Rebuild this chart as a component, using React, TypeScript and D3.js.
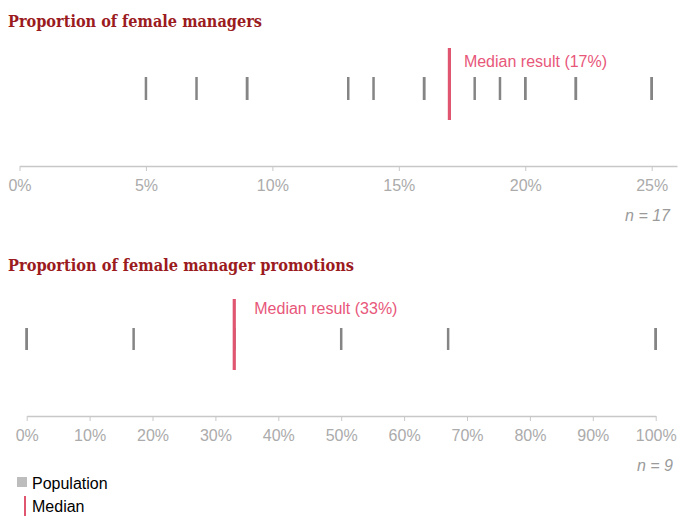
import React, { useEffect, useRef } from "react";
import * as d3 from "d3";

// Data
const managersValues = [5, 7, 9, 9, 13, 14, 16, 16, 17, 18, 19, 20, 20, 22, 22, 25, 25];
const managersTicks = [0, 5, 10, 15, 20, 25];
const promotionsValues = [0, 0, 17, 33, 33, 50, 67, 100, 100];
const promotionsTicks = [0, 10, 20, 30, 40, 50, 60, 70, 80, 90, 100];
const titles = ["Proportion of female managers", "Proportion of female manager promotions"];
const legendLabels = ["Population", "Median"];

const W = 690;
const H = 524;
const RED_TITLE = "#9b1b1e";
const MEDIAN = "#e05670";
const MEDIAN_TEXT = "#e8577a";
const MARK = "#858585";
const SANS = "'Liberation Sans', Arial, sans-serif";
const SERIF = "'DejaVu Serif', Georgia, serif";

type Cfg = {
  title: string;
  titleLen: number;
  titleY: number;
  values: number[];
  ticks: number[];
  domain: [number, number];
  range: [number, number];
  markTop: number;
  markBottom: number;
  medTop: number;
  medBottom: number;
  labelY: number;
  labelDx: number;
  axisY: number;
  nY: number;
  nRight: number;
};

const charts: Cfg[] = [
  {
    title: titles[0], titleLen: 254, titleY: 27,
    values: managersValues, ticks: managersTicks,
    domain: [0, 26], range: [19.5, 677],
    markTop: 77, markBottom: 100, medTop: 48, medBottom: 120,
    labelY: 67, labelDx: 14.5, axisY: 166, nY: 221, nRight: 670,
  },
  {
    title: titles[1], titleLen: 346, titleY: 271,
    values: promotionsValues, ticks: promotionsTicks,
    domain: [0, 100], range: [26.7, 655.7],
    markTop: 328, markBottom: 350, medTop: 299, medBottom: 370,
    labelY: 314, labelDx: 20, axisY: 416, nY: 471, nRight: 673,
  },
];

function Axis({ cfg }: { cfg: Cfg }) {
  const ref = useRef<SVGGElement>(null);
  useEffect(() => {
    if (!ref.current) return;
    const x = d3.scaleLinear().domain(cfg.domain).range(cfg.range);
    const axis = d3
      .axisBottom(x)
      .tickValues(cfg.ticks)
      .tickFormat((d) => `${d}%`)
      .tickSize(5)
      .tickSizeOuter(0)
      .tickPadding(9);
    const g = d3.select(ref.current);
    g.call(axis as any);
    g.select(".domain").attr("stroke", "#c8c8c8").attr("stroke-width", 1.5);
    g.selectAll(".tick line").attr("stroke", "#c8c8c8").attr("stroke-width", 1);
    g.selectAll(".tick text")
      .attr("fill", "#ababab")
      .attr("font-size", 16)
      .attr("font-family", SANS);
    g.attr("font-family", SANS);
  }, [cfg]);
  return <g ref={ref} transform={`translate(0,${cfg.axisY})`} />;
}

function Strip({ cfg }: { cfg: Cfg }) {
  const x = d3.scaleLinear().domain(cfg.domain).range(cfg.range);
  const med = d3.median(cfg.values) as number;
  return (
    <g>
      <text
        x={8}
        y={cfg.titleY}
        fill={RED_TITLE}
        fontFamily={SERIF}
        fontWeight="bold"
        fontSize={16}
        textLength={cfg.titleLen}
        lengthAdjust="spacingAndGlyphs"
      >
        {cfg.title}
      </text>
      {cfg.values.map((v, i) => (
        <line
          key={i}
          x1={x(v)}
          x2={x(v)}
          y1={cfg.markTop}
          y2={cfg.markBottom}
          stroke={MARK}
          strokeWidth={2.5}
        />
      ))}
      <line
        x1={x(med)}
        x2={x(med)}
        y1={cfg.medTop}
        y2={cfg.medBottom}
        stroke={MEDIAN}
        strokeWidth={3.2}
      />
      <text
        x={x(med) + cfg.labelDx}
        y={cfg.labelY}
        fill={MEDIAN_TEXT}
        fontFamily={SANS}
        fontSize={16}
      >
        {`Median result (${med}%)`}
      </text>
      <Axis cfg={cfg} />
      <text
        x={cfg.nRight}
        y={cfg.nY}
        textAnchor="end"
        fill="#9a9a9a"
        fontFamily={SANS}
        fontStyle="italic"
        fontSize={16}
      >
        {`n = ${cfg.values.length}`}
      </text>
    </g>
  );
}

export default function App() {
  return (
    <svg
      width={W}
      height={H}
      style={{ position: "absolute", left: 0, top: 0, background: "#fff" }}
    >
      {charts.map((c, i) => (
        <Strip key={i} cfg={c} />
      ))}
      <rect x={17} y={477} width={10} height={10} fill="#bdbdbd" />
      <text x={32} y={489} fontFamily={SANS} fontSize={16} fill="#000">
        {legendLabels[0]}
      </text>
      <line x1={25} x2={25} y1={496} y2={516} stroke={MEDIAN} strokeWidth={2} />
      <text x={32} y={512} fontFamily={SANS} fontSize={16} fill="#000">
        {legendLabels[1]}
      </text>
    </svg>
  );
}
